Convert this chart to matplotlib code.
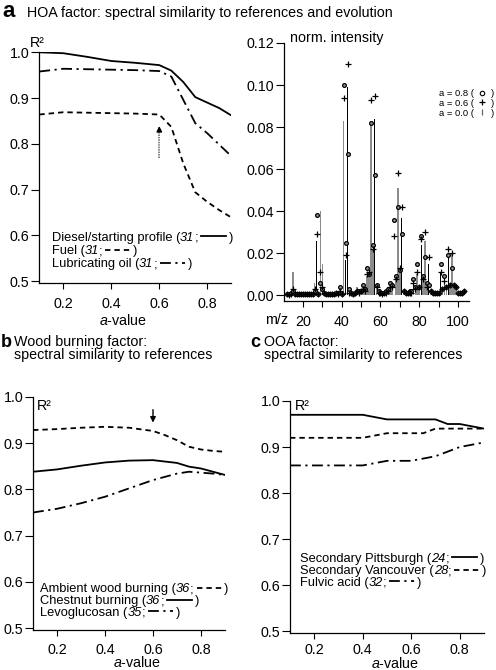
import numpy as np
import matplotlib
matplotlib.use('Agg')
from matplotlib import pyplot as plt
from matplotlib.lines import Line2D
from matplotlib.ticker import FormatStrFormatter, FixedLocator
from matplotlib.offsetbox import TextArea, DrawingArea, HPacker, AnnotationBbox

plt.rcParams['font.family'] = ['Liberation Sans', 'DejaVu Sans']
plt.rcParams['mathtext.fontset'] = 'custom'
plt.rcParams['mathtext.rm'] = 'Liberation Sans'
plt.rcParams['mathtext.it'] = 'Liberation Sans:italic'

# ---------------- DATA ----------------
a_value = [0.1, 0.2, 0.3, 0.4, 0.5, 0.6, 0.65, 0.7, 0.75, 0.8, 0.85, 0.9]

# panel a: HOA factor
hoa_diesel = [1.000, 0.998, 0.990, 0.981, 0.977, 0.972, 0.960, 0.935, 0.902, 0.890, 0.878, 0.862]
hoa_fuel = [0.864, 0.869, 0.868, 0.867, 0.866, 0.864, 0.837, 0.757, 0.694, 0.673, 0.655, 0.639]
hoa_lube = [0.958, 0.964, 0.963, 0.962, 0.961, 0.959, 0.947, 0.896, 0.845, 0.823, 0.798, 0.773]

# panel b: wood burning factor
wood_ambient = [0.928, 0.930, 0.933, 0.935, 0.933, 0.926, 0.917, 0.906, 0.892, 0.886, 0.883, 0.881]
wood_chestnut = [0.838, 0.843, 0.851, 0.858, 0.862, 0.863, 0.860, 0.857, 0.849, 0.845, 0.838, 0.831]
wood_levo = [0.750, 0.758, 0.770, 0.784, 0.802, 0.820, 0.827, 0.834, 0.838, 0.836, 0.834, 0.831]

# panel c: OOA factor
ooa_pittsburgh = [0.97, 0.97, 0.97, 0.97, 0.96, 0.96, 0.96, 0.96, 0.95, 0.95, 0.945, 0.94]
ooa_vancouver = [0.92, 0.92, 0.92, 0.92, 0.93, 0.93, 0.93, 0.94, 0.94, 0.94, 0.94, 0.94]
ooa_fulvic = [0.86, 0.86, 0.86, 0.86, 0.87, 0.87, 0.875, 0.88, 0.89, 0.90, 0.905, 0.91]

# HOA mass spectra (m/z 12 .. 103)
mz = list(range(12, 104))
spec_a08 = [0.0005, 0.0005, 0.001, 0.002, 0.0005, 0.0005, 0.0005, 0.0005, 0.0005, 0.0005,
            0.0005, 0.0005, 0.0005, 0.0008, 0.002, 0.038, 0.0005, 0.006, 0.003, 0.001,
            0.0005, 0.0005, 0.0005, 0.0005, 0.0005, 0.001, 0.001, 0.004, 0.0005, 0.100,
            0.025, 0.067, 0.003, 0.001, 0.0005, 0.001, 0.002, 0.002, 0.002, 0.005,
            0.003, 0.013, 0.010, 0.082, 0.024, 0.057, 0.005, 0.002, 0.001, 0.001,
            0.001, 0.002, 0.003, 0.006, 0.005, 0.036, 0.009, 0.042, 0.012, 0.029,
            0.002, 0.001, 0.001, 0.002, 0.002, 0.008, 0.004, 0.015, 0.004, 0.028,
            0.009, 0.018, 0.006, 0.005, 0.002, 0.001, 0.001, 0.001, 0.001, 0.015,
            0.003, 0.009, 0.004, 0.019, 0.005, 0.013, 0.005, 0.004, 0.001, 0.001,
            0.001, 0.002]
spec_a06 = [0.0005, 0.0003, 0.0008, 0.003, 0.0005, 0.0005, 0.0005, 0.0005, 0.0005, 0.0005,
            0.0005, 0.0005, 0.0005, 0.0008, 0.003, 0.029, 0.0005, 0.011, 0.004, 0.001,
            0.0005, 0.0005, 0.0005, 0.0005, 0.0005, 0.001, 0.0008, 0.002, 0.0005, 0.094,
            0.019, 0.110, 0.001, 0.001, 0.0005, 0.001, 0.002, 0.001, 0.002, 0.003,
            0.002, 0.010, 0.011, 0.093, 0.022, 0.095, 0.004, 0.001, 0.001, 0.0005,
            0.001, 0.001, 0.002, 0.004, 0.004, 0.028, 0.008, 0.058, 0.013, 0.042,
            0.002, 0.001, 0.001, 0.001, 0.001, 0.006, 0.003, 0.011, 0.004, 0.027,
            0.008, 0.030, 0.004, 0.018, 0.002, 0.001, 0.001, 0.001, 0.001, 0.011,
            0.003, 0.007, 0.004, 0.022, 0.005, 0.020, 0.005, 0.004, 0.001, 0.001,
            0.001, 0.002]
spec_a00 = [0.0003, 0.0002, 0.0005, 0.011, 0.0003, 0.0005, 0.0005, 0.0005, 0.0005, 0.0005,
            0.0005, 0.0005, 0.0005, 0.0008, 0.006, 0.026, 0.0005, 0.040, 0.015, 0.002,
            0.0005, 0.0005, 0.0005, 0.0005, 0.0005, 0.001, 0.001, 0.003, 0.0005, 0.083,
            0.017, 0.099, 0.002, 0.001, 0.0005, 0.001, 0.004, 0.002, 0.003, 0.004,
            0.003, 0.009, 0.011, 0.083, 0.022, 0.084, 0.004, 0.001, 0.001, 0.0005,
            0.001, 0.002, 0.003, 0.005, 0.004, 0.025, 0.009, 0.051, 0.012, 0.037,
            0.002, 0.001, 0.001, 0.002, 0.002, 0.005, 0.004, 0.010, 0.004, 0.024,
            0.009, 0.026, 0.006, 0.015, 0.002, 0.001, 0.001, 0.001, 0.001, 0.011,
            0.003, 0.006, 0.004, 0.019, 0.005, 0.020, 0.005, 0.004, 0.001, 0.001,
            0.001, 0.001]
solid_sticks = [27, 42, 43, 57, 67, 71, 81, 85, 91, 95]

W, H = 496, 670


def axes_px(left, top, right, bottom):
    return [left / W, 1 - bottom / H, (right - left) / W, (bottom - top) / H]


def style_axes(ax, ylim, yticks, fmt, xpad=5.5):
    for s in ('top', 'right'):
        ax.spines[s].set_visible(False)
    ax.spines['left'].set_linewidth(0.9)
    ax.spines['bottom'].set_linewidth(0.9)
    ax.set_ylim(*ylim)
    ax.set_yticks(yticks)
    ax.yaxis.set_major_formatter(FormatStrFormatter(fmt))
    ax.tick_params(axis='y', direction='out', length=6, width=0.8, pad=1, labelsize=10.3)
    ax.tick_params(axis='x', direction='out', length=4.5, width=0.8, pad=xpad, labelsize=10.3)
    ax.tick_params(axis='x', which='minor', direction='out', length=4.5, width=0.8)


def key_row(label, num, ls):
    txt = dict(fontsize=9.3, color='black')
    da = DrawingArea(22, 8, 0, 0)
    da.add_artist(Line2D([2, 20], [3.2, 3.2], color='black', lw=1.3, linestyle=ls))
    parts = [TextArea(label + ' (', textprops=txt),
             TextArea(num, textprops=dict(txt, style='italic')),
             TextArea(';', textprops=txt), da, TextArea(')', textprops=txt)]
    return HPacker(children=parts, align='baseline', pad=0, sep=0)


def put(fig, box, x_px, y_px):
    ab = AnnotationBbox(box, (x_px, H - y_px), xycoords='figure pixels',
                        box_alignment=(0, 0.5), frameon=False, pad=0)
    fig.add_artist(ab)


def r2_panel(ax, series, styles):
    for ys, ls in zip(series, styles):
        ax.plot(a_value, ys, color='black', lw=1.3, linestyle=ls)
    ax.set_xlim(0.1, 0.9)
    ax.set_xticks([0.2, 0.4, 0.6, 0.8])
    ax.xaxis.set_major_formatter(FormatStrFormatter('%.1f'))


SOLID = '-'
DASHED = (0, (3, 2.2))
DASHDOT = (0, (6, 2.5, 1.2, 2.5))

fig = plt.figure(figsize=(W / 100, H / 100), dpi=100)

# ---- panel a, left ----
ax_a = fig.add_axes(axes_px(39.3, 52.3, 231.3, 282.7))
r2_panel(ax_a, [hoa_diesel, hoa_fuel, hoa_lube], [SOLID, DASHED, DASHDOT])
style_axes(ax_a, (0.4964, 1.0), [0.5, 0.6, 0.7, 0.8, 0.9, 1.0], '%.1f')
ax_a.plot([0.6, 0.6], [0.77, 0.83], color='0.4', lw=1.1, linestyle=(0, (1, 0.6)))
ax_a.annotate('', xy=(0.6, 0.845), xytext=(0.6, 0.825),
              arrowprops=dict(arrowstyle='-|>', color='black', lw=1.0, mutation_scale=8))
ax_a.text(-0.05, 1.022, 'R²', transform=ax_a.transAxes, fontsize=10.3, va='baseline')
ax_a.text(0.436, -0.165, '$\\mathit{a}$-value', transform=ax_a.transAxes, fontsize=10.3,
          ha='center', va='center')
put(fig, key_row('Diesel/starting profile', '31', SOLID), 51.7, 236.7)
put(fig, key_row('Fuel', '31', DASHED), 51.7, 250.0)
put(fig, key_row('Lubricating oil', '31', DASHDOT), 51.7, 263.3)

# ---- panel a, spectrum ----
ax_s = fig.add_axes(axes_px(284, 43, 469, 301))
mz_arr = np.array(mz)
a00 = np.array(spec_a00)
dark = np.isin(mz_arr, solid_sticks)
ax_s.bar(mz_arr[~dark], a00[~dark], width=0.85, color='0.55', linewidth=0, zorder=1)
ax_s.bar(mz_arr[dark], a00[dark], width=0.45, color='black', linewidth=0, zorder=1)
ax_s.plot(mz, spec_a08, 'o', ms=2.7, mfc='0.6', mec='black', mew=0.9, zorder=3)
ax_s.plot(mz, spec_a06, '+', ms=4.0, mew=0.9, color='black', zorder=3)
ax_s.set_xlim(10.2, 105.7)
style_axes(ax_s, (-0.0027, 0.12), [0, 0.02, 0.04, 0.06, 0.08, 0.10, 0.12], '%.2f')
ax_s.xaxis.set_major_locator(FixedLocator([20, 40, 60, 80, 100]))
ax_s.xaxis.set_minor_locator(FixedLocator([30, 50, 70, 90]))
ax_s.text(0.032, 1.004, 'norm. intensity', transform=ax_s.transAxes, fontsize=10.3, va='baseline')
ax_s.text(-0.103, -0.074, 'm/z', transform=ax_s.transAxes, fontsize=10.3, va='center')

legend_marks = [dict(marker='o', ms=3.2, mfc='white', mec='black', mew=0.8, linestyle='none'),
                dict(marker='+', ms=4.2, mew=0.9, color='black', linestyle='none'),
                dict(marker='|', ms=4.0, mew=0.9, color='0.4', linestyle='none')]
for i, (lab, mk) in enumerate(zip(['a = 0.8 (', 'a = 0.6 (', 'a = 0.0 ('], legend_marks)):
    da = DrawingArea(12, 6, 0, 0)
    da.add_artist(Line2D([6], [2.6], **mk))
    row = HPacker(children=[TextArea(lab, textprops=dict(fontsize=6.8)), da,
                            TextArea(')', textprops=dict(fontsize=6.8))],
                  align='baseline', pad=0, sep=0)
    put(fig, row, 439, 93 + i * 9.7)

# ---- panel b ----
ax_b = fig.add_axes(axes_px(33, 396.7, 225, 630))
r2_panel(ax_b, [wood_ambient, wood_chestnut, wood_levo], [DASHED, SOLID, DASHDOT])
style_axes(ax_b, (0.4963, 1.0), [0.5, 0.6, 0.7, 0.8, 0.9, 1.0], '%.1f', xpad=4.5)
ax_b.annotate('', xy=(0.6, 0.938), xytext=(0.6, 0.978),
              arrowprops=dict(arrowstyle='-|>', color='black', lw=1.0, mutation_scale=8))
ax_b.text(0.019, 0.943, 'R²', transform=ax_b.transAxes, fontsize=10.3, va='baseline')
ax_b.text(0.54, -0.141, '$\\mathit{a}$-value', transform=ax_b.transAxes, fontsize=10.3,
          ha='center', va='center')
put(fig, key_row('Ambient wood burning', '36', DASHED), 40, 588.3)
put(fig, key_row('Chestnut burning', '36', SOLID), 40, 600.0)
put(fig, key_row('Levoglucosan', '35', DASHDOT), 40, 611.7)

# ---- panel c ----
ax_c = fig.add_axes(axes_px(290, 401, 484, 632.5))
r2_panel(ax_c, [ooa_pittsburgh, ooa_vancouver, ooa_fulvic], [SOLID, DASHED, DASHDOT])
style_axes(ax_c, (0.497, 1.0), [0.5, 0.6, 0.7, 0.8, 0.9, 1.0], '%.1f', xpad=3.0)
ax_c.text(0.026, 0.961, 'R²', transform=ax_c.transAxes, fontsize=10.3, va='baseline')
ax_c.text(0.541, -0.132, '$\\mathit{a}$-value', transform=ax_c.transAxes, fontsize=10.3,
          ha='center', va='center')
put(fig, key_row('Secondary Pittsburgh', '24', SOLID), 300, 557.7)
put(fig, key_row('Secondary Vancouver', '28', DASHED), 300, 570.0)
put(fig, key_row('Fulvic acid', '32', DASHDOT), 300, 581.7)

# ---- panel titles ----
def ftext(x, y, s, **kw):
    fig.text(x / W, 1 - y / H, s, va='baseline', **kw)

ftext(2, 16.7, 'a', fontsize=16, fontweight='bold')
ftext(26.7, 16.7, 'HOA factor: spectral similarity to references and evolution', fontsize=10.3)
ftext(0.5, 346.7, 'b', fontsize=13, fontweight='bold')
ftext(14, 346, 'Wood burning factor:', fontsize=10.3)
ftext(14, 358.5, 'spectral similarity to references', fontsize=10.3)
ftext(250.5, 346.7, 'c', fontsize=13, fontweight='bold')
ftext(264, 346, 'OOA factor:', fontsize=10.3)
ftext(264, 358.5, 'spectral similarity to references', fontsize=10.3)

fig.savefig('out.png', dpi=100)
